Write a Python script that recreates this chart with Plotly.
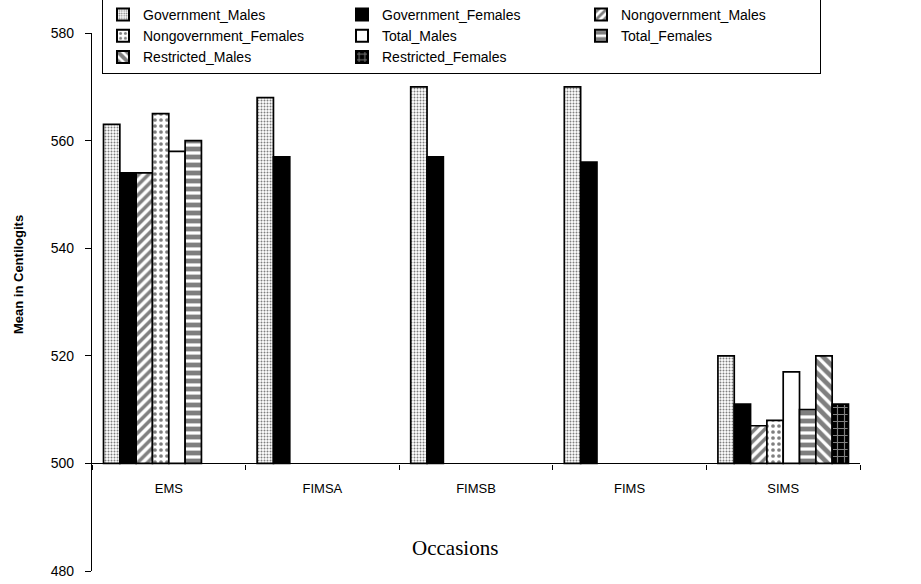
import plotly.graph_objects as go

categories = ["EMS", "FIMSA", "FIMSB", "FIMS", "SIMS"]
series_names = ["Government_Males", "Government_Females", "Nongovernment_Males",
                "Nongovernment_Females", "Total_Males", "Total_Females",
                "Restricted_Males", "Restricted_Females"]
gov_males = [563, 568, 570, 570, 520]
gov_females = [554, 557, 557, 556, 511]
nongov_males = [554, None, None, None, 507]
nongov_females = [565, None, None, None, 508]
total_males = [558, None, None, None, 517]
total_females = [560, None, None, None, 510]
restricted_males = [None, None, None, None, 520]
restricted_females = [None, None, None, None, 511]
y_ticks = [480, 500, 520, 540, 560, 580]
baseline = 500

values = [gov_males, gov_females, nongov_males, nongov_females,
          total_males, total_females, restricted_males, restricted_females]

styles = [
    dict(color="white", pattern=dict(shape=".", fgcolor="black", bgcolor="white", size=3, solidity=0.35)),
    dict(color="black"),
    dict(color="white", pattern=dict(shape="/", fgcolor="black", bgcolor="white", size=7, solidity=0.5)),
    dict(color="white", pattern=dict(shape=".", fgcolor="black", bgcolor="white", size=6, solidity=0.3)),
    dict(color="white"),
    dict(color="white", pattern=dict(shape="-", fgcolor="black", bgcolor="white", size=8, solidity=0.6)),
    dict(color="white", pattern=dict(shape="\\", fgcolor="black", bgcolor="white", size=8, solidity=0.6)),
    dict(color="black", pattern=dict(shape="+", fgcolor="white", bgcolor="black", size=7, solidity=0.3)),
]

fig = go.Figure()
for name, vals, st in zip(series_names, values, styles):
    fig.add_trace(go.Bar(
        x=categories,
        y=[(v - baseline) if v is not None else None for v in vals],
        base=baseline,
        name=name,
        marker=dict(line=dict(color="black", width=1.7), **st),
    ))

L, R, T, B = 92, 61, 33, 13
PW, PH = 921 - L - R, 584 - T - B

fig.update_layout(
    width=921, height=584,
    margin=dict(l=L, r=R, t=T, b=B, autoexpand=False),
    paper_bgcolor="white", plot_bgcolor="white",
    barmode="group", bargap=0.15, bargroupgap=0,
    font=dict(family="Liberation Sans, Arial, sans-serif", color="black"),
    showlegend=True,
    legend=dict(
        orientation="h", x=(102 - L) / PW, xanchor="left",
        y=(571 - 74) / PH, yanchor="bottom",
        entrywidth=194, entrywidthmode="pixels",
        bordercolor="black", borderwidth=1, bgcolor="white",
        font=dict(size=14, family="Liberation Sans, Arial, sans-serif"),
        itemsizing="constant", tracegroupgap=0, traceorder="normal",
    ),
    xaxis=dict(
        anchor="free", position=(baseline - 480) / (580 - 480),
        showline=True, linecolor="black", linewidth=1.2,
        ticks="outside", ticklen=5, tickcolor="black", tickson="boundaries",
        tickfont=dict(size=13), ticklabelstandoff=13, showgrid=False,
    ),
    yaxis=dict(
        range=[480, 580], tickvals=y_ticks, showline=True, linecolor="black",
        linewidth=1.2, ticks="outside", ticklen=6, tickcolor="black",
        tickfont=dict(size=14), showgrid=False, zeroline=False,
        ticklabelstandoff=8,
    ),
    annotations=[
        dict(text="<b>Mean in Centilogits</b>", textangle=-90, xref="paper", yref="paper",
             x=(18 - L) / PW, y=(571 - 275) / PH, xanchor="center", yanchor="middle",
             showarrow=False, font=dict(size=13, family="Liberation Sans, Arial, sans-serif")),
        dict(text="Occasions", xref="paper", yref="paper",
             x=(455 - L) / PW, y=(571 - 548) / PH, xanchor="center", yanchor="middle",
             showarrow=False, font=dict(size=21, family="Liberation Serif, Times New Roman, serif")),
    ],
)

fig.write_html("out.html")
